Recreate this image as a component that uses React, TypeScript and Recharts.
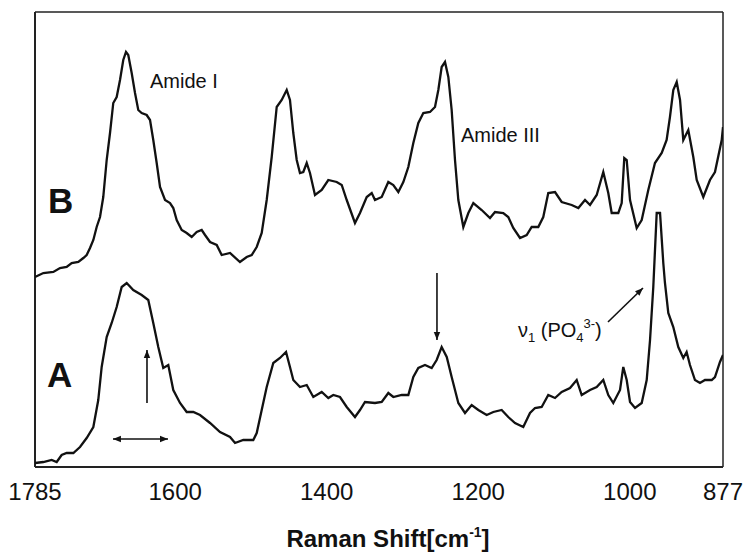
import React from 'react';
import { LineChart, Line, XAxis, YAxis, ReferenceLine, ReferenceDot, Label } from 'recharts';

// Spectrum B (upper trace): wavenumber (cm-1) and relative intensity
const wnB = [1785, 1774.0, 1760.8, 1752.0, 1743.2, 1736.6, 1727.8, 1721.2, 1716.8, 1712.4, 1708.0, 1703.6, 1699.2, 1694.9, 1690.4, 1686.0, 1681.7, 1677.2, 1672.8, 1668.5, 1664.9, 1661.9, 1657.4, 1653.0, 1648.7, 1644.2, 1637.6, 1633.2, 1628.9, 1624.4, 1620.0, 1613.4, 1606.8, 1602.5, 1598.0, 1591.4, 1584.8, 1578.2, 1571.6, 1565.0, 1560.6, 1554.0, 1545.2, 1538.6, 1527.6, 1514.5, 1505.6, 1499.0, 1492.4, 1485.8, 1479.2, 1472.6, 1466.0, 1459.4, 1452.8, 1448.5, 1444.1, 1439.6, 1435.3, 1430.9, 1426.4, 1422.1, 1415.5, 1406.6, 1397.9, 1386.8, 1380.2, 1373.6, 1362.7, 1356.1, 1347.2, 1340.6, 1336.3, 1327.4, 1318.7, 1312.1, 1305.5, 1298.9, 1292.3, 1285.7, 1279.1, 1272.5, 1263.7, 1257.1, 1252.7, 1248.3, 1243.9, 1239.5, 1235.1, 1230.7, 1226.3, 1219.7, 1213.1, 1206.5, 1195.5, 1184.5, 1177.9, 1167.0, 1160.4, 1153.8, 1144.9, 1136.1, 1129.5, 1120.8, 1114.2, 1107.6, 1098.7, 1089.9, 1076.7, 1067.9, 1059.1, 1052.5, 1043.7, 1035.0, 1028.4, 1023.9, 1015.2, 1010.7, 1007.3, 1004.1, 999.7, 990.9, 984.3, 975.6, 966.8, 957.9, 951.4, 947.0, 942.6, 938.1, 933.7, 929.4, 922.8, 916.2, 911.7, 903.0, 894.2, 887.6, 878.7, 877];
const intB = [190, 194, 195, 199, 200, 204, 205, 209, 212, 219, 227, 240, 250, 270, 307, 334, 364, 370, 387, 407, 415, 412, 394, 374, 357, 354, 352, 347, 327, 304, 280, 267, 264, 259, 247, 237, 234, 230, 235, 237, 232, 225, 222, 212, 214, 205, 210, 212, 220, 234, 267, 310, 360, 367, 377, 367, 334, 307, 294, 295, 304, 294, 272, 277, 287, 285, 282, 267, 244, 254, 270, 274, 267, 270, 285, 282, 275, 285, 300, 324, 344, 354, 355, 360, 377, 400, 405, 390, 357, 307, 267, 240, 254, 264, 257, 249, 255, 254, 250, 239, 229, 232, 240, 240, 250, 274, 275, 265, 262, 259, 267, 262, 272, 295, 274, 254, 254, 264, 309, 307, 267, 239, 247, 277, 304, 314, 327, 350, 377, 385, 367, 327, 337, 310, 287, 270, 287, 295, 327, 340];

// Spectrum A (lower trace)
const wnA = [1785, 1774.0, 1763.0, 1756.4, 1749.8, 1743.2, 1734.4, 1725.6, 1716.8, 1708.0, 1701.5, 1697.0, 1690.4, 1683.8, 1677.2, 1670.6, 1664.0, 1655.3, 1644.2, 1635.5, 1628.9, 1622.3, 1615.7, 1609.1, 1602.5, 1593.6, 1584.8, 1576.1, 1567.2, 1554.0, 1540.8, 1527.6, 1521.0, 1510.1, 1496.9, 1492.4, 1485.8, 1479.2, 1470.5, 1461.7, 1453.7, 1448.5, 1444.1, 1435.3, 1426.4, 1417.7, 1406.6, 1397.9, 1391.3, 1382.5, 1373.6, 1362.7, 1356.1, 1349.5, 1336.3, 1327.4, 1318.7, 1312.1, 1301.0, 1292.3, 1285.7, 1279.1, 1270.3, 1261.5, 1254.9, 1248.3, 1241.6, 1235.1, 1226.3, 1217.5, 1208.7, 1199.9, 1188.9, 1180.1, 1169.1, 1160.4, 1151.5, 1140.6, 1131.7, 1125.1, 1116.3, 1107.6, 1098.7, 1089.9, 1078.9, 1070.1, 1063.5, 1052.5, 1043.7, 1035.0, 1028.4, 1021.8, 1012.9, 1008.6, 1004.1, 999.7, 993.1, 984.3, 977.7, 973.3, 969.0, 964.5, 960.1, 955.8, 953.6, 949.2, 942.6, 936.0, 929.4, 925.0, 920.6, 914.0, 907.4, 900.8, 891.9, 887.6, 881.0, 877];
const intA = [4, 5, 7, 5, 12, 14, 14, 20, 29, 40, 67, 100, 130, 144, 160, 180, 184, 177, 172, 167, 144, 120, 99, 102, 77, 64, 55, 55, 52, 44, 35, 30, 24, 27, 27, 34, 57, 80, 104, 109, 115, 100, 87, 80, 82, 70, 75, 69, 72, 70, 60, 50, 57, 65, 64, 65, 74, 70, 72, 72, 90, 99, 102, 99, 107, 120, 110, 90, 64, 54, 62, 57, 52, 55, 57, 50, 44, 40, 54, 59, 60, 72, 69, 75, 79, 87, 72, 77, 80, 87, 72, 64, 77, 100, 87, 65, 59, 64, 87, 127, 180, 254, 254, 204, 184, 154, 140, 120, 109, 115, 102, 87, 84, 87, 87, 90, 105, 112];

// Axis ticks
const axisTicks = [1785, 1700, 1600, 1500, 1400, 1300, 1200, 1100, 1000, 900, 877];
const majorTicks = [1600, 1400, 1200, 1000];
const minorTicks = [1700, 1500, 1300, 1100, 900];
const labelledTicks = [1785, 1600, 1400, 1200, 1000, 877];
const xDomain = [877, 1785];
const yDomain = [0, 455];

// Annotation anchors (data coordinates)
const textNotes = [
  { wn: 1633.2, v: 379, text: 'Amide I' },
  { wn: 1222.8, v: 325, text: 'Amide III' },
];
const traceLabels = [
  { wn: 1767.8, v: 254, text: 'B' },
  { wn: 1769.2, v: 80, text: 'A' },
];
const nuNote = { wn: 1147.6, v: 130 };
const arrows = [
  { from: { wn: 1028.8, v: 145 }, to: { wn: 982.6, v: 179 }, both: false },
  { from: { wn: 1254.5, v: 194 }, to: { wn: 1254.5, v: 127 }, both: false },
  { from: { wn: 1637.2, v: 64 }, to: { wn: 1637.2, v: 117 }, both: false },
  { from: { wn: 1682.1, v: 28 }, to: { wn: 1609.5, v: 28 }, both: true },
];

const dataB = wnB.map((w, i) => ({ wn: w, v: intB[i] }));
const dataA = wnA.map((w, i) => ({ wn: w, v: intA[i] }));

const FONT = 'Liberation Sans, Arial, Helvetica, sans-serif';
const AXIS_COLOR = '#222';

function head(x: number, y: number, ang: number) {
  const L = 8, W = 3.2;
  const bx = x - L * Math.cos(ang), by = y - L * Math.sin(ang);
  const px = -Math.sin(ang) * W, py = Math.cos(ang) * W;
  return `${x},${y} ${bx + px},${by + py} ${bx - px},${by - py}`;
}

const makeArrow = (both: boolean) => (p: any) => {
  const { x1, y1, x2, y2 } = p;
  const ang = Math.atan2(y2 - y1, x2 - x1);
  return (
    <g>
      <line x1={x1} y1={y1} x2={x2} y2={y2} stroke="#111" strokeWidth={1.6} />
      <polygon points={head(x2, y2, ang)} fill="#111" />
      {both && <polygon points={head(x1, y1, ang + Math.PI)} fill="#111" />}
    </g>
  );
};

function AxisTick(props: any) {
  const { x, y, payload } = props;
  const v = payload.value;
  if (!labelledTicks.includes(v)) return <g />;
  return (
    <text x={x} y={y + 33} textAnchor="middle" fontSize={24} fontFamily={FONT} fill="#111">
      {v}
    </text>
  );
}

function AxisTitle(props: any) {
  const vb = props.viewBox;
  const cx = vb.x + vb.width / 2 + 9;
  return (
    <text x={cx} y={vb.y + 80} textAnchor="middle" fontSize={24} fontWeight="bold" fontFamily={FONT} fill="#111">
      Raman Shift[cm
      <tspan dy={-10} fontSize={14}>-1</tspan>
      <tspan dy={10}>]</tspan>
    </text>
  );
}

export default function App() {
  return (
    <div style={{ position: 'absolute', left: 0, top: 0, background: '#fff' }}>
      <LineChart width={750} height={558} margin={{ top: 12, right: 27, bottom: 31, left: 35 }}>
        <XAxis
          dataKey="wn"
          type="number"
          domain={xDomain}
          reversed
          ticks={axisTicks}
          interval={0}
          tickSize={0}
          tickMargin={0}
          tickLine={false}
          tick={<AxisTick />}
          height={60}
          axisLine={{ stroke: AXIS_COLOR, strokeWidth: 2 }}
          allowDataOverflow
        >
          <Label content={<AxisTitle />} />
        </XAxis>
        {/* inward tick marks drawn by mirrored helper axes */}
        <XAxis
          xAxisId="major"
          orientation="bottom"
          mirror
          type="number"
          domain={xDomain}
          reversed
          ticks={majorTicks}
          interval={0}
          tickSize={12}
          tick={false}
          axisLine={false}
          tickLine={{ stroke: AXIS_COLOR, strokeWidth: 2 }}
          height={0}
          allowDataOverflow
        />
        <XAxis
          xAxisId="minor"
          orientation="bottom"
          mirror
          type="number"
          domain={xDomain}
          reversed
          ticks={minorTicks}
          interval={0}
          tickSize={6}
          tick={false}
          axisLine={false}
          tickLine={{ stroke: AXIS_COLOR, strokeWidth: 2 }}
          height={0}
          allowDataOverflow
        />
        <YAxis type="number" domain={yDomain} hide allowDataOverflow />
        {/* frame: left, right, top */}
        <ReferenceLine x={xDomain[1]} stroke={AXIS_COLOR} strokeWidth={2} />
        <ReferenceLine x={xDomain[0]} stroke={AXIS_COLOR} strokeWidth={1.5} />
        <ReferenceLine y={yDomain[1]} stroke={AXIS_COLOR} strokeWidth={1.5} />
        <Line data={dataB} dataKey="v" stroke="#111" strokeWidth={2.3} dot={false} isAnimationActive={false} type="linear" />
        <Line data={dataA} dataKey="v" stroke="#111" strokeWidth={2.3} dot={false} isAnimationActive={false} type="linear" />
        {arrows.map((a, i) => (
          <ReferenceLine
            key={'ar' + i}
            segment={[{ x: a.from.wn, y: a.from.v }, { x: a.to.wn, y: a.to.v }]}
            shape={makeArrow(a.both)}
          />
        ))}
        {textNotes.map((t, i) => (
          <ReferenceDot
            key={'tn' + i}
            x={t.wn}
            y={t.v}
            r={0}
            shape={(p: any) => (
              <text x={p.cx} y={p.cy} fontSize={20} fontFamily={FONT} fill="#111">{t.text}</text>
            )}
          />
        ))}
        {traceLabels.map((t, i) => (
          <ReferenceDot
            key={'tl' + i}
            x={t.wn}
            y={t.v}
            r={0}
            shape={(p: any) => (
              <text x={p.cx} y={p.cy} fontSize={35} fontWeight={900} fontFamily={FONT} fill="#111">{t.text}</text>
            )}
          />
        ))}
        <ReferenceDot
          x={nuNote.wn}
          y={nuNote.v}
          r={0}
          shape={(p: any) => (
            <text x={p.cx} y={p.cy} fontSize={20} fontFamily={FONT} fill="#111">
              ν
              <tspan dy={5} fontSize={13}>1</tspan>
              <tspan dy={-5}> (PO</tspan>
              <tspan dy={5} fontSize={13}>4</tspan>
              <tspan dy={-14} fontSize={13}>3-</tspan>
              <tspan dy={9}>)</tspan>
            </text>
          )}
        />
      </LineChart>
    </div>
  );
}
